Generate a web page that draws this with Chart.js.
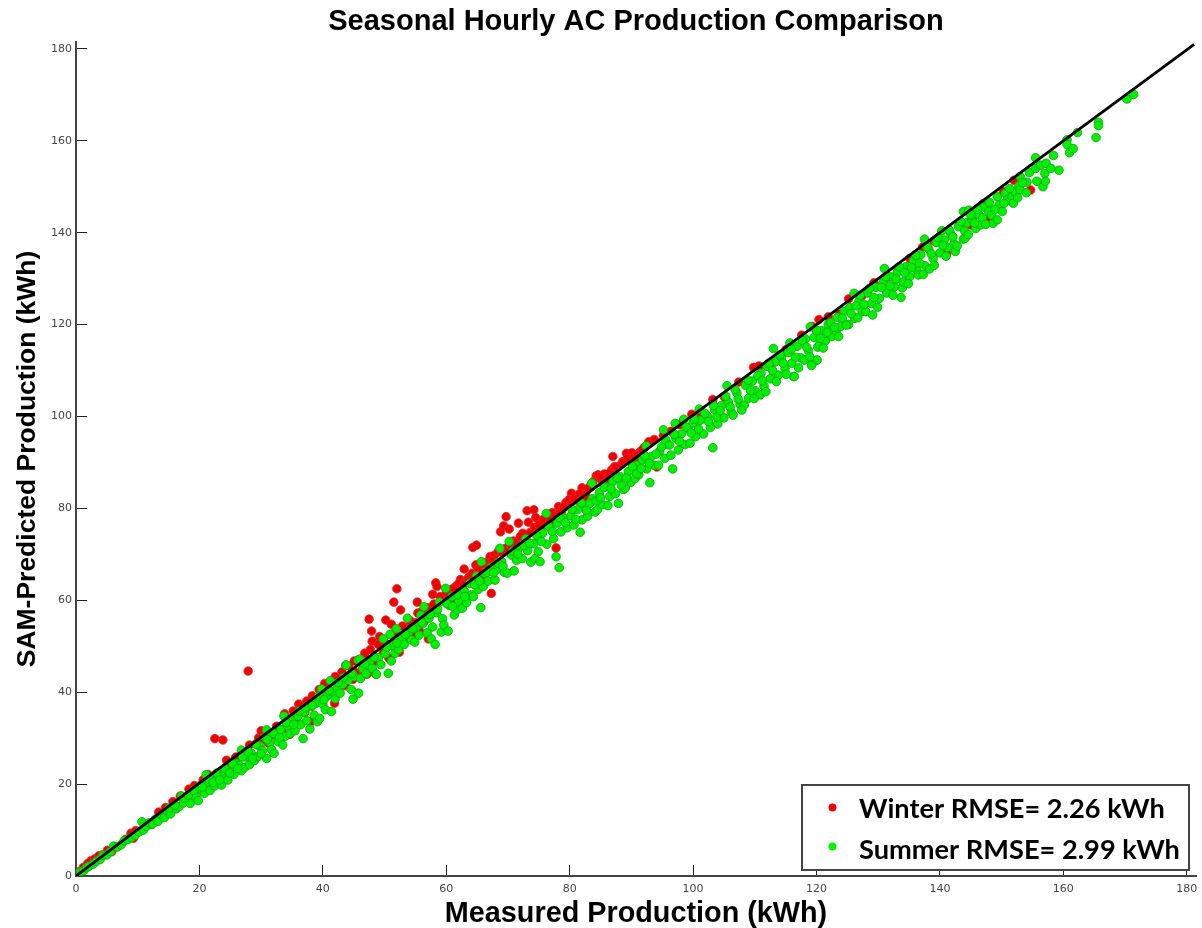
<!DOCTYPE html>
<html>
<head>
<meta charset="utf-8">
<title>Seasonal Hourly AC Production Comparison</title>
<script src="https://cdn.jsdelivr.net/npm/chart.js@4/dist/chart.umd.min.js"></script>
<style>
body { margin: 0; background: #fff; }
canvas { display: block; }
</style>
</head>
<body>
<canvas id="seasonChart" width="1202" height="928"></canvas>
<script>
// Points as [measured, predicted], in kWh
const winterPoints = [
[0.6,1],[1.2,1.9],[1.9,2.7],[2.4,3.3],[3,3.7],[3.7,4.4],[4.3,4.6],[5.1,5.6],[5.8,5.3],[6.6,6.4],[8.1,8],[8.9,9.3],[9.3,8.2],[9.7,9.9],
[12.2,11.2],[13.4,13.9],[14.5,14.9],[15.7,16.2],[16.9,17.4],[18.3,18.9],[19.2,19.7],[20,19.1],[20.6,20.9],[21.4,22.1],[22.5,29.9],[23.8,29.6],
[24.4,25.2],[25.2,24.2],[25.9,25.9],[27.4,27],[28.1,28.5],[27.9,44.6],[28.4,25.2],[29.2,28.8],[29.6,30.1],[30,31.6],[30.4,29.8],[31.2,28.9],
[32.2,30.7],[32.5,32.6],[33.4,31.3],[33.8,35.3],[34.6,30.8],[35.6,33.9],[36.5,36.8],[37.1,35.6],[38.1,33.6],[39.2,38.2],[40.3,41.9],[40.9,40.6],
[41.4,42.4],[41.9,37.6],[42.7,43.1],[43.6,41.4],[44.9,42.8],[45.3,44.3],[46.2,46.6],[46.8,48.5],[47.1,43.9],[47.3,44.1],[47.5,55.9],[47.9,53.3],
[48,51.1],[48.6,46.8],[49.2,52.1],[49.8,48.6],[50.2,55.7],[50.7,47.4],[51.1,54.8],[51.5,59.6],[52,62.5],[52.4,48.7],[52.6,57.9],[53.1,51.9],
[53.8,54.2],[54.4,52.6],[55.3,59.6],[55.4,57.2],[55.7,53.2],[56.4,55.3],[57.1,51.6],[57.8,61.3],[58.3,63.8],[58.5,63],[59.2,59.9],[60.4,60.8],
[60.9,62.4],[61.6,63.1],[62.3,64.5],[62.9,66.8],[63.2,64.2],[63.7,65.1],[64.3,71.5],[64.8,67.7],[64.9,72],[65.8,65.4],[66.4,68.2],[67.1,69.5],
[67.3,61.5],[67.8,69.8],[68.4,70.6],[68.8,74.9],[69.3,76.2],[69.7,78.2],[70.2,75.5],[70.9,72.9],[71.7,76.8],[72.4,74.6],[73.1,79.5],[73.3,77],
[74.2,79.7],[74.5,78],[75.3,75.4],[75.9,76.8],[76.4,78.3],[77.2,79.1],[77.8,71.4],[78.2,80.4],[78.7,79.4],[79.4,81.3],[80,80.7],[80.3,83.3],
[81.2,81.8],[82,84.5],[82.6,83.1],[83.4,84.9],[84.3,87.1],[84.6,87.3],[85.1,86.4],[85.6,87.5],[86.2,85.6],[86.8,88.4],[87,91.3],[87.6,88.8],
[88.2,89.4],[89.2,92],[89.7,90.4],[90.1,92.1],[90.8,90.9],[91.4,92.3],[92.1,93.3],[92.8,94.5],[93.7,95],[94.1,89],[95.2,95.9],[96.4,96.8],
[97.8,98.2],[99.8,100.5],[101.3,100.6],[103.2,103.7],[105.1,104.2],[107.4,107.5],[109.8,110.7],[110.7,111],[112.6,110.8],[115.1,114.6],
[117.6,117.7],[119.3,119.6],[120.4,121.1],[121.9,121.7],[123.7,122.3],[125.2,125.6],[127.4,126.3],[129.3,129.1],[131.6,130.4],[133.2,131.6],
[135.1,134.4],[137.2,136.9],[139,138.2],[141,135.6],[141.1,135.5],[143.1,141.6],[145,141.7],[145.2,141.7],[147,146.3],[148.2,143.2],[148.2,143.3],
[150.3,148.9],[152,151.4],[154.7,149.3]
];

// Denser red cover along the upper side of the band
const winterCorePoints = [
[35.2,35.9],[36.1,37.4],[37.4,38.1],[38.3,39.2],[39.4,40.6],[42,43.4],[43.1,44.4],[44.2,45.7],[45.1,46.8],[46.4,44.9],[47.7,49.3],[49,50.4],[49.9,51.1],
[50.8,50.2],[51.6,52.9],[52.9,54.4],[54.1,55.6],[55,55.1],[56.1,57.6],[57,58.4],[58,59.2],[59,60.8],[60,61.7],[60.7,59.6],[61.2,62.6],[62,63.6],[62.8,63.4],
[63.5,64.7],[64.2,65.9],[65.2,66.8],[65.9,67.9],[66.8,66.9],[67.5,68.6],[68.2,68.2],[69,70.4],[69.6,71.3],[70.5,71.9],[71.3,72.6],[72,73.9],[72.8,72.2],[73.6,74.8],
[74.3,75.9],[75,76.4],[75.7,77.6],[76.8,77.3],[77.6,78.4],[78.3,78.9],[79,80.3],[79.9,81.9],[80.7,82.2],[81.6,83.2],[82.3,82.4],[83,84.4],[83.8,85.8],[84.9,86.9],
[85.4,85.4],[86.4,87.6],[87.3,89.1],[88.6,90.2],[89.4,90.9],[90.4,91.2],[91,91.6],[91.8,92.8]
];

const summerPoints = [
[0.3,0.4],[0.7,0.9],[1.2,1.1],[1.7,1.8],[2.1,2.1],[2.8,2.6],[3.3,3.2],[3.9,3.6],[4.4,4.5],[5,4.6],[5.6,5.3],[6.1,6.5],[6.7,6.3],[7.3,6.8],[7.8,7.7],
[8.4,7.9],[9,8.4],[9.6,8.9],[10.2,9.6],[10.7,11.8],[10.9,10],[11.4,10.8],[11.9,11.6],[12.4,11.3],[12.9,12.4],[13.3,11.9],[13.9,13.2],[14.3,12.7],
[14.8,14.2],[15.3,13.5],[15.7,15],[16.2,14.6],[16.7,15.1],[17.1,17.4],[17.4,15.9],[17.9,17.1],[18.4,16.2],[18.5,15.8],[18.9,17.8],[19.4,17.2],
[19.8,16.4],[20.2,18.8],[20.8,18],[21.1,22],[21.3,20.4],[21.7,18.6],[22,21.1],[22.5,19.6],[23,21.6],[23.6,19.8],[23.9,22.4],[24.3,21.2],[24.6,20.9],
[25.1,23.2],[25.6,22.1],[26,24.5],[26.4,24.1],[26.8,27.4],[26.8,22.9],[27.3,23.6],[27.6,25.9],[28.1,24.2],[28.4,26.7],[28.9,25.1],[29.5,26],
[29.8,28.3],[30.2,27.3],[30.6,30.2],[30.9,31.8],[30.9,25.6],[31.4,29.1],[31.7,27.5],[32.1,26.7],[32.4,30.7],[32.8,29.2],[33.2,31.9],[33.5,28.5],
[33.7,34.8],[33.9,30.4],[34.3,32.7],[34.7,31],[35.1,33.9],[35.5,31.6],[36,34.8],[36.4,32.9],[36.8,29.9],[37,35.7],[37.4,33.8],[37.9,32],[38.1,36.9],
[38.6,35],[38.9,37.6],[39.1,33.6],[39.5,34.3],[39.8,40.7],[40,37.4],[40.4,36.2],[40.7,39.2],[41.2,42.5],[41.4,35.8],[41.6,40],[42,38.6],[42.3,41],
[42.8,39.8],[43.2,41.7],[43.7,45.9],[43.8,45.9],[44.1,42.6],[44.6,40.6],[44.9,38.5],[45.1,43.4],[45.7,47],[45.8,39.8],[46,47.2],[46.1,43],[46.5,45.1],
[47,44],[47.6,46.4],[48,45.2],[48.6,43.9],[48.7,43.9],[49,47.5],[49.4,46],[49.8,51.6],[50.1,48.4],[50.6,44.1],[50.9,52.6],[51.1,46.8],[51.4,50.1],
[51.7,48.5],[51.9,53.8],[52.3,49.3],[52.8,51.8],[53.2,50.4],[53.7,56.1],[53.9,53],[54.3,51.4],[54.9,50.9],[55.2,54.2],[55.6,52.4],[55.9,56.8],[56.2,54.9],
[56.4,58.6],[56.9,52.9],[57.2,56.1],[57.6,51.6],[57.8,54.2],[58.2,50.4],[58.4,57.3],[58.9,59.6],[59.2,53.1],[59.4,56],[59.6,54.6],[59.9,62.6],[60.3,53.3],
[60.5,58.9],[60.9,60.8],[61.3,56.8],[61.7,57.9],[62,59.7],[62.6,58.3],[62.9,62],[63.3,59.5],[63.8,63.7],[64.1,61.2],[64.4,60.8],[64.9,65.3],[65.2,62.4],
[65.6,58.4],[65.7,68.4],[66,63],[66.3,65.8],[66.8,64.2],[67.3,67.2],[67.9,64.4],[68.2,66.7],[68.7,71.3],[69,68.4],[69.4,66.1],[69.9,65.9],[70.2,72.8],
[70.6,69.8],[71,66.4],[71.4,68.7],[71.9,71.6],[72.3,69.1],[72.9,73.4],[73.2,70.8],[73.7,68.3],[74.2,72.3],[74.4,69.1],[74.9,70.6],[75.2,68.4],[75.6,74.6],
[76.2,78.9],[76.3,72.2],[76.9,75.7],[77.4,73.4],[77.8,69.5],[78,76.8],[78.3,67.1],[78.6,74.9],[79.1,77.9],[79.6,75.8],[80.2,78.4],[80.7,76.4],[81.3,79.7],
[81.7,74.8],[82,77.5],[82.4,80.6],[82.9,78.3],[83.6,85.5],[83.7,82.1],[84.1,79.2],[84.5,79.7],[84.8,83.4],[85.3,80.8],[85.9,84.7],[86.2,80.6],[86.5,82.6],
[87,85.8],[87.4,83.2],[87.9,81.1],[88.2,86.9],[88.7,84.1],[89,84.4],[89.5,88],[89.9,85.7],[90.6,86.5],[90.8,89.4],[91.2,87.3],[91.8,90.6],[92.4,93.6],
[92.5,88.6],[93,85.6],[93.2,91.3],[93.7,89.4],[94.4,89.4],[94.6,92.5],[95.2,97.1],[95.4,90.9],[95.9,93.9],[96.4,91.6],[96.7,88.6],[97.1,98.5],[97.2,95.3],
[97.6,92.7],[98.1,96.2],[98.5,99.4],[98.7,93.9],[99.2,97.4],[99.5,94.2],[100,98.6],[100.4,95.6],[101,101.6],[101.2,99.2],[101.7,96.2],[102.3,100.1],[102.8,97.6],
[103.2,93.2],[103.5,101.5],[104,98.4],[104.6,102.4],[105,99.7],[105.5,106.7],[105.7,103.2],[106.2,100.9],[106.5,100.3],[107.1,105.1],[107.6,102.6],[108.3,102.5],
[108.5,106.8],[109,104],[109.6,107.7],[110.1,105.6],[110.9,104.7],[111,109.4],[111.5,106.6],[112,110.9],[112.5,108.2],[113,114.8],[113.3,111.9],[113.8,109],
[114.3,112.9],[114.9,110.4],[115.4,113.9],[115.7,116],[116,111.6],[116.3,108.7],[116.4,108.7],[116.9,115.3],[117.4,112.8],[118,112.3],[118.2,116.9],[118.7,114.3],
[119,119.5],[119.4,112.1],[119.6,117.2],[119.8,112.1],[120.1,112.3],[120.2,115.1],[120.5,115.6],[120.8,118.7],[121.4,116.4],[121.9,120.1],[122.5,117.4],[123.2,118.5],
[123.4,121.6],[123.9,119.6],[124.5,122.9],[125.2,120],[125.4,123.7],[126.1,126.8],[126.2,121.4],[126.7,121.5],[126.9,125.1],[127.4,122.9],[128,122.8],[128.3,126.9],
[128.9,124.6],[129.1,122.1],[129.6,128.1],[130.2,125.7],[130.8,129.2],[131,132.2],[131.4,126.9],[132,130.4],[132.6,128.2],[133.1,131.4],[133.7,125.9],[133.9,128],
[134.1,129.3],[134.5,132.6],[135.1,130.4],[135.7,133.9],[136.3,131.7],[136.5,130.8],[136.9,135.2],[137.5,138.6],[137.6,132.8],[138.2,136.4],[138.3,132.1],[138.9,134.4],
[139.4,137.9],[140,135.6],[140.3,140.4],[140.7,138.4],[141.2,136.8],[141.7,139.9],[142.3,137.6],[142.5,135.9],[143,141.3],[143.8,138.6],[143.8,144.6],[144.1,138.8],
[144.4,142.2],[144.7,144.9],[145.2,142.8],[145.8,140.9],[146.3,143.9],[146.6,141.7],[147.1,145.6],[147.9,144.6],[148.4,143.8],[148.6,142],[149.3,147.8],[149.3,142.8],
[149.6,146],[150.1,144.6],[150.6,148.6],[150.9,147.1],[151.7,147.8],[152.2,148.9],[152.8,150.2],[153,152.2],[153,149.3],[154,148.7],[154.1,151],[154.5,153.1],
[155.5,156.3],[155.5,154],[155.7,151.2],[156.3,154.7],[156.7,150],[157,152.9],[157.1,151.2],[157.2,155.1],[158,154],[158.4,156.8],[159.3,153.6],[160.6,160.2],
[160.6,159.2],[161,157.4],[161.6,158.3],[162.3,161.8],[165.3,160.7],[165.7,164],[165.7,163.3],[170.3,169.1],[171.4,170.1]
];

// Extra green cover close to the line, where the dots merge into a solid band
const summerCorePoints = [
[43.4,43.2],[44.7,44.1],[46.8,46.2],[48.3,47.6],[50.4,49.8],[52,50.7],[53.4,52.6],[54.6,53.8],[56,55.2],[57.4,56.9],[58.6,58],[60.1,59.3],[61,58.7],[61.9,61.2],
[63,60.8],[64.6,63.4],[65.4,64.2],[66.6,66.1],[67.7,66],[68.4,68.1],[69.2,67.4],[70.8,70.7],[71.6,70.1],[72.6,71.9],[73.5,72.4],[74.7,74.1],[75.4,72.8],[76.6,76.1],
[77.2,75],[78.4,77.9],[79.3,76.9],[80.4,79.8],[81,77.6],[81.9,81.2],[82.7,79.6],[83.3,81.1],[84.3,81.6],[85,82.3],[85.6,84.6],[86.7,84.3],[87.7,86.6],[88.4,85],
[89.2,86.6],[90.2,89.1],[90.9,87.6],[91.6,88.7],[92.2,91.4],[92.9,89.8],[94,91.8],[94.9,93.4],[95.6,94.8],[96.2,93.8],[97,96.1],[97.8,94.6],[98.9,97.7],[99.7,96.4],
[100.2,99.4],[100.9,97.3],[101.9,100.7],[102.5,98.9],[103.3,102.4],[103.8,99.9],[104.4,101.3],[105.3,104.4],[106,102.1],[106.8,105.9],[107.3,103.8],[107.9,101.4],
[108.9,107.9],[109.3,105.7],[109.9,103.9],[110.5,108.9],[111.2,107.8],[111.8,105.4],[112.3,111.6],[112.9,110],[113.5,107.6],[114.1,113.4],[114.6,111.6],[115.1,109.2],
[115.9,114.6],[116.6,112.9],[117.1,110.6],[117.7,116.6],[118.4,115.1],[118.9,113],[119.2,111.1],[120,118.7],[120.6,117],[121.1,114.9],[121.7,118.3],[122.3,120.4],
[122.9,119.4],[123.6,117.4],[124.2,121.4],[124.8,119.9],[125.6,122.4],[126.4,124.1],[127.1,126.4],[127.7,124.4],[128.6,127.9],[129.3,125.9],[129.9,123.8],[130.5,128.1],
[131.2,130.4],[131.9,128.4],[132.4,126.4],[132.9,129.9],[133.4,132.6],[134.3,131.3],[134.9,128.9],[135.4,132.4],[136.1,135.1],[136.7,133.4],[137.3,130.9],[137.9,136.9],
[138.6,135.4],[139.1,132.9],[139.7,138.9],[140.5,137.2],[141,134.9],[141.5,140.6],[142.1,139.1],[142.8,137.1],[143.4,142.4],[144,140.4],[144.6,139.6],[145,143.9],
[145.6,142.1],[146.1,145.1],[146.9,143.2],[147.4,141.8],[148,146.6],[148.9,145.1],[150.4,146.4],[151.3,149.6],[151.9,146.4],[152.6,147.6],[153.4,150.9],
[15.1,14.8],[16,15.4],[17.6,16.9],[18.2,17.6],[19.1,18.6],[20,19.6],[20.5,19.4],[21.6,21],[22.2,20.4],[22.8,22.4],[23.3,20.9],[24.1,23.4],[24.9,22.4],[25.4,24.4],[26.2,23.4],
[27,25.9],[27.9,27.1],[28.6,25.6],[29.2,28.6],[30,26.6],[31,29.7],[32,31.1],[33,30.1],[34.1,33.4],[35.3,33],[36.2,35.9],[37.2,36.6],[38.3,37.1],[39.3,39.1],[40.2,38.4],[41,40.4],[42.5,42.1]
];

const fitLineX = [0, 20, 40, 60, 80, 100, 120, 140, 160, 181.2];
const fitLineY = [0, 20.2, 40.2, 60.3, 80.4, 100.3, 120, 140, 160, 181];

const winterLabel = "Winter RMSE= 2.26 kWh";
const summerLabel = "Summer RMSE= 2.99 kWh";

function toXY(list) {
    return list.map(p => ({ x: p[0], y: p[1] }));
}

// Legend box sits inside the plot, so it is painted after the datasets
const legendBox = {
    id: "legendBox",
    afterDraw(chart) {
        const ctx = chart.ctx;
        ctx.save();
        ctx.fillStyle = "#fff";
        ctx.strokeStyle = "#444";
        ctx.lineWidth = 2;
        ctx.fillRect(802, 785, 387, 85);
        ctx.strokeRect(802, 785, 387, 85);

        const rows = [
            { text: winterLabel, color: "#f00000", dotY: 807.5, textY: 818 },
            { text: summerLabel, color: "#00f000", dotY: 846.5, textY: 859 },
        ];
        ctx.textAlign = "left";
        ctx.textBaseline = "alphabetic";
        ctx.font = "bold 27.2px Lato";
        rows.forEach(r => {
            ctx.fillStyle = r.color;
            ctx.beginPath();
            ctx.arc(832.5, r.dotY, 4, 0, Math.PI * 2);
            ctx.fill();
            ctx.fillStyle = "#000";
            ctx.fillText(r.text, 859, r.textY);
        });
        ctx.restore();
    },
};

const chart = new Chart(document.getElementById("seasonChart").getContext("2d"), {
    type: "scatter",
    data: {
        datasets: [
            {
                label: "Fit",
                data: fitLineX.map((x, i) => ({ x: x, y: fitLineY[i] })),
                showLine: true,
                borderColor: "#000",
                borderWidth: 2.8,
                pointRadius: 0,
                order: 0,
            },
            {
                label: summerLabel,
                data: toXY(summerPoints.concat(summerCorePoints)),
                backgroundColor: "#00ee00",
                borderColor: "rgba(20,170,20,0.9)",
                borderWidth: 1,
                pointRadius: 4.3,
                order: 1,
            },
            {
                label: winterLabel,
                data: toXY(winterPoints.concat(winterCorePoints)),
                backgroundColor: "#ee0000",
                borderColor: "rgba(230,40,40,0.8)",
                borderWidth: 1,
                pointRadius: 4.3,
                order: 2,
            },
        ],
    },
    options: {
        responsive: false,
        animation: false,
        layout: { padding: { right: 6 } },
        plugins: {
            legend: { display: false },
            tooltip: { enabled: false },
            title: {
                display: true,
                text: "Seasonal Hourly AC Production Comparison",
                fullSize: false,
                color: "#000",
                font: { family: "'Liberation Sans'", size: 29, weight: "bold", lineHeight: 1.2 },
                padding: { top: 4.5, bottom: 2.7 },
            },
        },
        scales: {
            x: {
                type: "linear",
                min: 0,
                max: 181.5,
                afterFit(scale) {
                    scale.height = 52;
                    scale.paddingLeft = 0;
                    scale.paddingRight = 0;
                },
                grid: { drawOnChartArea: false, tickLength: -11, tickColor: "#222", tickWidth: 1 },
                border: { color: "#444", width: 2 },
                ticks: {
                    stepSize: 20,
                    includeBounds: false,
                    maxRotation: 0,
                    color: "#444",
                    padding: 18,
                    font: { family: "'DejaVu Sans'", size: 11 },
                },
                title: {
                    display: true,
                    text: "Measured Production (kWh)",
                    color: "#000",
                    font: { family: "'Liberation Sans'", size: 28.8, weight: "bold", lineHeight: 1 },
                    padding: 0,
                },
            },
            y: {
                type: "linear",
                min: 0,
                max: 181.5,
                afterFit(scale) {
                    scale.width = 76;
                    scale.paddingTop = 0;
                    scale.paddingBottom = 0;
                },
                grid: { drawOnChartArea: false, tickLength: -11, tickColor: "#222", tickWidth: 1 },
                border: { color: "#444", width: 2 },
                ticks: {
                    stepSize: 20,
                    includeBounds: false,
                    color: "#444",
                    padding: 15,
                    font: { family: "'DejaVu Sans'", size: 11 },
                },
                title: {
                    display: true,
                    text: "SAM-Predicted Production (kWh)",
                    color: "#000",
                    font: { family: "'Liberation Sans'", size: 26.5, weight: "bold", lineHeight: 1.1 },
                    padding: { top: 13, bottom: 0 },
                },
            },
        },
    },
    plugins: [legendBox],
});
</script>
</body>
</html>
